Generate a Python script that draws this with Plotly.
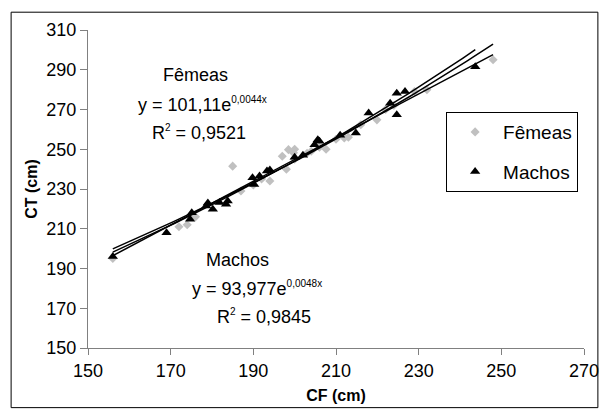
import numpy as np
import plotly.graph_objects as go

# Fêmeas (female) data: CF (cm), CT (cm)
femeas_cf = [156, 172, 174, 176, 185, 187, 190, 192, 194, 197, 198, 198.5, 199.7, 200, 200, 203, 204, 206, 207.6, 210, 212, 213, 216, 219.9, 222, 224, 229, 232, 248]
femeas_ct = [195, 211, 212, 216, 241.5, 229, 232, 235, 234, 246.5, 240, 249.8, 248.2, 245, 250, 248, 249, 251, 250, 255, 255.7, 256, 262.3, 264.8, 270, 272, 279, 280, 295]

# Machos (male) data: CF (cm), CT (cm)
machos_cf = [156, 169, 174.7, 175.1, 178.6, 179, 180.2, 181.8, 183.4, 183.8, 189.8, 190.2, 191.5, 193.3, 194, 200, 202, 204.8, 205.6, 206, 211, 214.8, 217.9, 223.1, 224.7, 224.7, 226.7, 243.7]
machos_ct = [196, 208, 214.8, 218, 221.5, 223, 219.8, 223.2, 222.3, 224, 235.7, 232.3, 236.5, 239, 239.5, 246, 247, 252.3, 254.8, 254, 257, 258.2, 268.2, 273.2, 278.2, 267.3, 279, 291.5]

# Trendline equations as printed on the chart
SUP = "<sup><span style='font-size:10px'>{}</span></sup>"
fem_eq = "y = 101,11e" + SUP.format("0,0044x")
mac_eq = "y = 93,977e" + SUP.format("0,0048x")
fem_r2 = "R" + SUP.format("2") + " = 0,9521"
mac_r2 = "R" + SUP.format("2") + " = 0,9845"

x_ticks = [150, 170, 190, 210, 230, 250, 270]
y_ticks = [150, 170, 190, 210, 230, 250, 270, 290, 310]

FONT = "Liberation Sans, Arial, sans-serif"

fig = go.Figure()

fig.add_trace(go.Scatter(
    x=femeas_cf, y=femeas_ct, mode="markers", name="Fêmeas",
    marker=dict(symbol="diamond", size=7, color="#c0c0c0"),
    legendgroup="f"))
fig.add_trace(go.Scatter(
    x=machos_cf, y=machos_ct, mode="markers", name="Machos",
    marker=dict(symbol="triangle-up", size=9, color="black"),
    legendgroup="m"))

# Trendlines fitted to the data (exponential fits + linear fit)
def exp_fit(xs, ys):
    b, ln_a = np.polyfit(np.array(xs), np.log(np.array(ys)), 1)
    return np.exp(ln_a), b

xf = np.linspace(min(femeas_cf), max(femeas_cf), 60)
xm = np.linspace(min(machos_cf), max(machos_cf), 60)
fa, fb = exp_fit(femeas_cf, femeas_ct)
ma, mb = exp_fit(machos_cf, machos_ct)
lin = np.polyfit(femeas_cf, femeas_ct, 1)
for xs, ys in [(xf, fa * np.exp(fb * xf)), (xm, ma * np.exp(mb * xm)), (xf, np.polyval(lin, xf))]:
    fig.add_trace(go.Scatter(x=xs, y=ys, mode="lines",
                             line=dict(color="black", width=1.5),
                             showlegend=False, hoverinfo="skip"))

afont = dict(family=FONT, size=18, color="black")
ann = [
    (176, 287.5, "Fêmeas"),
    (177.6, 272.5, fem_eq),
    (176.9, 258.5, fem_r2),
    (186.2, 194.5, "Machos"),
    (191, 180, mac_eq),
    (192.6, 166, mac_r2),
]
for x, y, t in ann:
    fig.add_annotation(x=x, y=y, text=t, showarrow=False, font=afont,
                       xanchor="center", yanchor="middle")

# Outer chart border
fig.add_shape(type="rect", xref="paper", yref="paper",
              x0=-0.155, x1=1.028, y0=-0.1875, y1=1.056,
              line=dict(color="black", width=1))

fig.update_layout(
    width=603, height=407,
    margin=dict(l=80, r=20, t=20, b=67),
    paper_bgcolor="white", plot_bgcolor="white",
    font=dict(family=FONT, size=18, color="black"),
    legend=dict(x=0.722, y=0.742, xanchor="left", yanchor="top",
                bordercolor="black", borderwidth=1, bgcolor="white",
                font=dict(family=FONT, size=19),
                itemwidth=46,
                tracegroupgap=12, traceorder="grouped"),
    xaxis=dict(range=[150, 270], tickvals=x_ticks, showgrid=False, zeroline=False,
               showline=True, linecolor="#808080", linewidth=1,
               ticks="outside", ticklen=6, tickcolor="#808080",
               tickfont=dict(size=18),
               title=dict(text="<b>CF (cm)</b>", font=dict(size=16), standoff=10)),
    yaxis=dict(range=[150, 310], tickvals=y_ticks, showgrid=False, zeroline=False,
               showline=True, linecolor="#808080", linewidth=1,
               ticks="outside", ticklen=7, tickcolor="#808080",
               tickfont=dict(size=18),
               title=dict(text="<b>CT (cm)</b>", font=dict(size=16), standoff=4)),
)

fig.write_html("out.html")
